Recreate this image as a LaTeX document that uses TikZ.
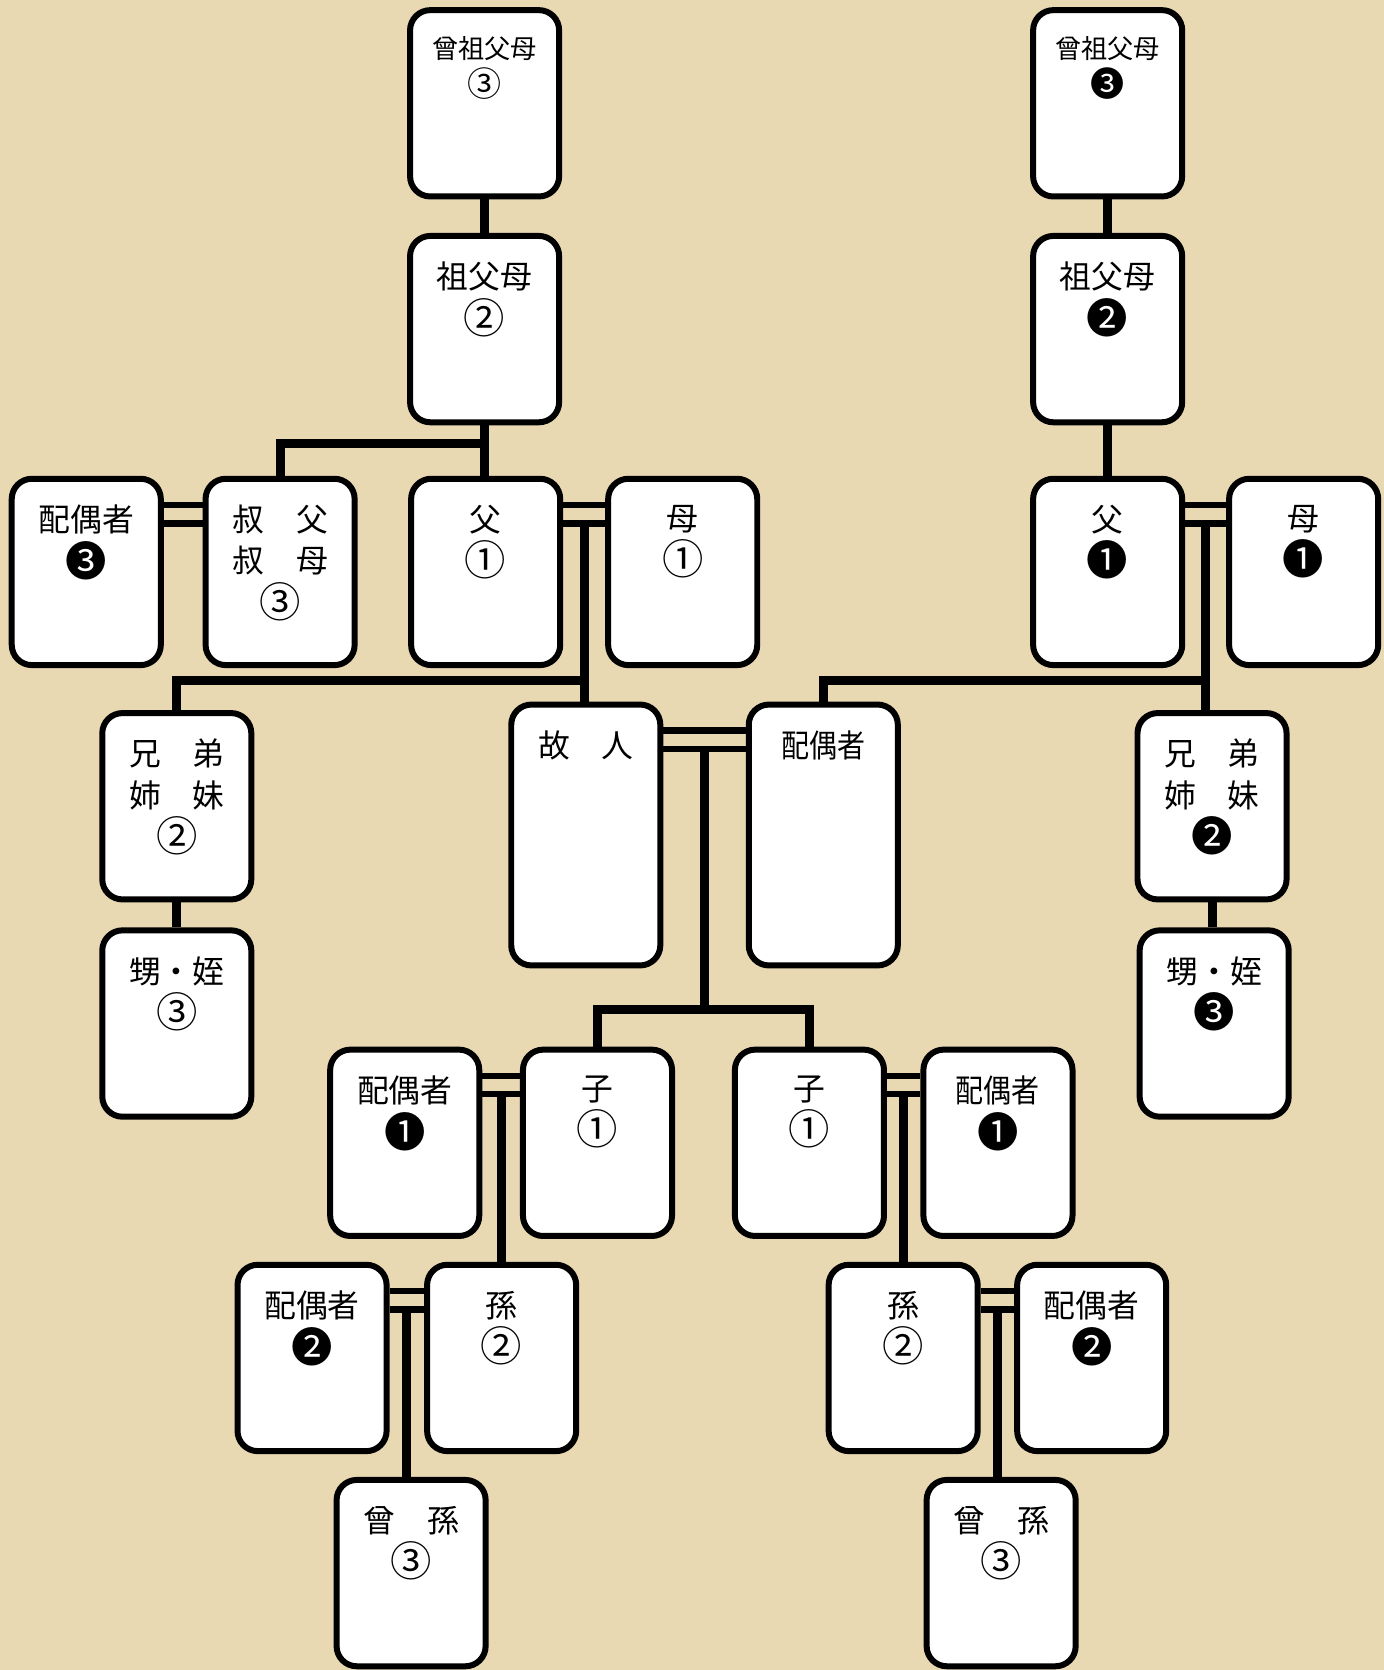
\documentclass[tikz,border=0pt]{standalone}
\usepackage{fontspec}
\setmainfont{Noto Sans CJK JP}
\usepackage{graphicx}
\usetikzlibrary{calc}
\definecolor{parchment}{RGB}{233,217,178}
\newcommand\circnum[1]{\raisebox{-1.8pt}{\scalebox{1.3}{#1}}}
\tikzset{
  card/.style={draw, line width=3.2pt, fill=white, rounded corners=0.38cm,
    minimum width=2.8cm, minimum height=3.5cm, inner sep=0pt},
  tallcard/.style={card, minimum height=4.9cm},
  tag/.style={anchor=north, align=center, inner sep=0pt, yshift=-0.54cm,
    font=\fontsize{17}{22}\selectfont},
  smalltag/.style={tag, font=\fontsize{14}{18.5}\selectfont},
  link/.style={line width=4.8pt},
  wed/.style={line width=3.6pt},
}
\begin{document}
\begin{tikzpicture}[x=0.02cm,y=-0.02cm]
  \fill[parchment] (0,0) rectangle (1299,1568);
  \useasboundingbox (0,0) rectangle (1299,1568);
  % ancestors
  \node[card] (sosoL) at (455,97) {};
  \node[smalltag] (sosoL-t) at (sosoL.north) {曾祖父母\\\circnum{③}};
  \node[card] (sosoR) at (1040,97) {};
  \node[smalltag] (sosoR-t) at (sosoR.north) {曾祖父母\\\circnum{❸}};
  \node[card] (sofuL) at (455,309) {};
  \node[tag] (sofuL-t) at (sofuL.north) {祖父母\\\circnum{②}};
  \node[card] (sofuR) at (1040,309) {};
  \node[tag] (sofuR-t) at (sofuR.north) {祖父母\\\circnum{❷}};
  % parents row
  \node[card] (ojiSp) at (81,537) {};
  \node[tag] (ojiSp-t) at (ojiSp.north) {配偶者\\\circnum{❸}};
  \node[card] (oji) at (263,537) {};
  \node[tag] (oji-t) at (oji.north) {叔　父\\叔　母\\\circnum{③}};
  \node[card] (fuL) at (456,537) {};
  \node[tag] (fuL-t) at (fuL.north) {父\\\circnum{①}};
  \node[card] (boL) at (641,537) {};
  \node[tag] (boL-t) at (boL.north) {母\\\circnum{①}};
  \node[card] (fuR) at (1040,537) {};
  \node[tag] (fuR-t) at (fuR.north) {父\\\circnum{❶}};
  \node[card] (boR) at (1224,537) {};
  \node[tag] (boR-t) at (boR.north) {母\\\circnum{❶}};
  % own row
  \node[card] (kyoL) at (166,757) {};
  \node[tag] (kyoL-t) at (kyoL.north) {兄　弟\\姉　妹\\\circnum{②}};
  \node[tallcard] (kojin) at (550,784) {};
  \node[tag] (kojin-t) at (kojin.north) {故　人};
  \node[tallcard] (haigu) at (773,784) {};
  \node[tag] (haigu-t) at (haigu.north) {\scalebox{0.88}[1]{配偶者}};
  \node[card] (kyoR) at (1138,757) {};
  \node[tag] (kyoR-t) at (kyoR.north) {兄　弟\\姉　妹\\\circnum{❷}};
  \node[card] (oiL) at (166,961) {};
  \node[tag] (oiL-t) at (oiL.north) {甥・姪\\\circnum{③}};
  \node[card] (oiR) at (1140,961) {};
  \node[tag] (oiR-t) at (oiR.north) {甥・姪\\\circnum{❸}};
  % descendants
  \node[card] (koSpL) at (380,1073) {};
  \node[tag] (koSpL-t) at (koSpL.north) {配偶者\\\circnum{❶}};
  \node[card] (koL) at (561,1073) {};
  \node[tag] (koL-t) at (koL.north) {子\\\circnum{①}};
  \node[card] (koR) at (760,1073) {};
  \node[tag] (koR-t) at (koR.north) {子\\\circnum{①}};
  \node[card] (koSpR) at (937,1073) {};
  \node[tag] (koSpR-t) at (koSpR.north) {\scalebox{0.88}[1]{配偶者}\\\circnum{❶}};
  \node[card] (magoSpL) at (293,1275) {};
  \node[tag] (magoSpL-t) at (magoSpL.north) {配偶者\\\circnum{❷}};
  \node[card] (magoL) at (471,1275) {};
  \node[tag] (magoL-t) at (magoL.north) {孫\\\circnum{②}};
  \node[card] (magoR) at (848,1275) {};
  \node[tag] (magoR-t) at (magoR.north) {孫\\\circnum{②}};
  \node[card] (magoSpR) at (1025,1275) {};
  \node[tag] (magoSpR-t) at (magoSpR.north) {配偶者\\\circnum{❷}};
  \node[card] (himagoL) at (386,1477) {};
  \node[tag] (himagoL-t) at (himagoL.north) {曾　孫\\\circnum{③}};
  \node[card] (himagoR) at (940,1477) {};
  \node[tag] (himagoR-t) at (himagoR.north) {曾　孫\\\circnum{③}};
  % marriages
  \foreach \a/\b in {ojiSp/oji, fuL/boL, fuR/boR, kojin/haigu,
                     koSpL/koL, koR/koSpR, magoSpL/magoL, magoR/magoSpR} {
    \draw[wed] ([yshift=-0.55cm]\a.north east) -- ([yshift=-0.55cm]\b.north west);
    \draw[wed] ([yshift=-0.89cm]\a.north east) -- ([yshift=-0.89cm]\b.north west);
    \coordinate (\a-m) at ($([yshift=-0.89cm]\a.north east)!0.5!([yshift=-0.89cm]\b.north west)$);
  }
  % lines of descent
  \draw[link] (sosoL.south) -- (sofuL.north);
  \draw[link] (sosoR.south) -- (sofuR.north);
  \draw[link] (sofuL.south) -- (sofuL.south |- fuL.north);
  \draw[link] (sofuL.south) |- ([yshift=0.6cm]oji.north) -- (oji.north);
  \draw[link] (sofuR.south) -- (fuR.north);
  \draw[link] (fuL-m) -- (fuL-m |- kojin.north);
  \draw[link] (fuL-m) |- ([yshift=0.56cm]kyoL.north) -- (kyoL.north);
  \draw[link] (fuR-m) -- (fuR-m |- kyoR.north);
  \draw[link] (fuR-m) |- ([yshift=0.4cm]haigu.north) -- (haigu.north);
  \draw[link] (kyoL.south) -- (oiL.north);
  \draw[link] (kyoR.south) -- (kyoR.south |- oiR.north);
  \draw[link] (kojin-m) |- ([yshift=0.7cm]koL.north) -- (koL.north);
  \draw[link] (kojin-m) |- ([yshift=0.7cm]koR.north) -- (koR.north);
  \draw[link] (koSpL-m) -- (koSpL-m |- magoL.north);
  \draw[link] (koR-m) -- (koR-m |- magoR.north);
  \draw[link] (magoSpL-m) -- (magoSpL-m |- himagoL.north);
  \draw[link] (magoR-m) -- (magoR-m |- himagoR.north);
\end{tikzpicture}
\end{document}
